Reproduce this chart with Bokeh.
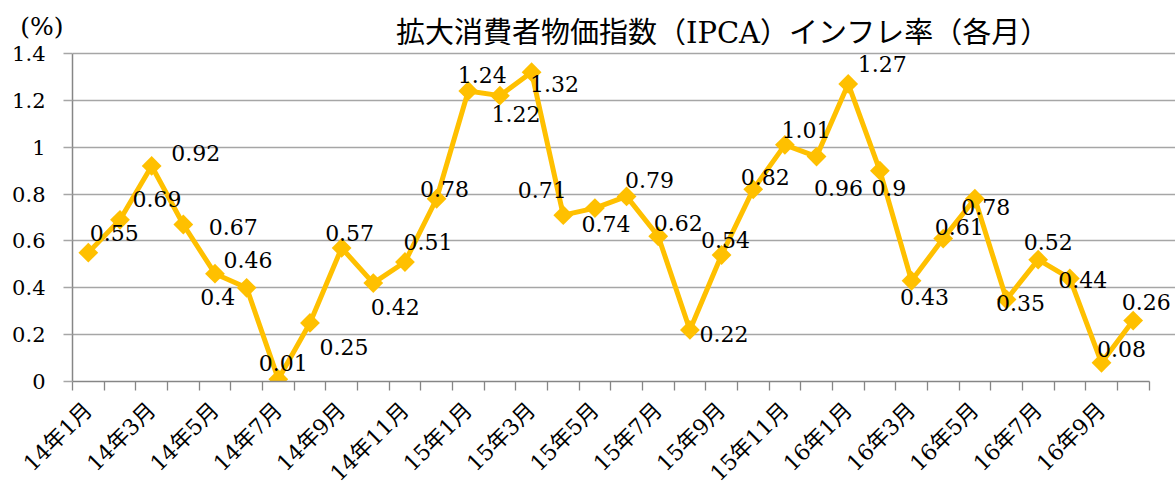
import math
from bokeh.plotting import figure
from bokeh.layouts import column
from bokeh.models import (ColumnDataSource, FixedTicker, Range1d, LabelSet, Label)
from bokeh.core.properties import value
from bokeh.embed import file_html
from bokeh.resources import INLINE

# ---------------- data ----------------
months = ["14年1月", "14年2月", "14年3月", "14年4月", "14年5月", "14年6月",
          "14年7月", "14年8月", "14年9月", "14年10月", "14年11月", "14年12月",
          "15年1月", "15年2月", "15年3月", "15年4月", "15年5月", "15年6月",
          "15年7月", "15年8月", "15年9月", "15年10月", "15年11月", "15年12月",
          "16年1月", "16年2月", "16年3月", "16年4月", "16年5月", "16年6月",
          "16年7月", "16年8月", "16年9月", "16年10月"]
ipca = [0.55, 0.69, 0.92, 0.67, 0.46, 0.40, 0.01, 0.25, 0.57, 0.42, 0.51, 0.78,
        1.24, 1.22, 1.32, 0.71, 0.74, 0.79, 0.62, 0.22, 0.54, 0.82, 1.01, 0.96,
        1.27, 0.90, 0.43, 0.61, 0.78, 0.35, 0.52, 0.44, 0.08, 0.26]
y_ticks = [0, 0.2, 0.4, 0.6, 0.8, 1.0, 1.2, 1.4]
y_tick_labels = ["0", "0.2", "0.4", "0.6", "0.8", "1", "1.2", "1.4"]
title_text = "拡大消費者物価指数（IPCA）インフレ率（各月）"
unit_text = "(%)"

# label placement (pixels, right / down) as in the original
label_dx = [26, 37, 44, 50, 33, -29, 5, 34, 8, 22, 23, 8, 14, 16, 23, -21, 11,
            23, 20, 34, 4, 12, 21, 22, 34, 9, 13, 16, 11, 14, 10, 13, 20, 13]
label_dy = [-20, -21, -13, 2, -14, 9, -16, 24, -15, 24, -20, -10, -16, 18, 12,
            -25, 16, -16, -13, 4, -15, -12, -15, 31, -20, 17, 16, -12, 8, 4,
            -18, 2, -14, -19]

# ---------------- layout ----------------
N = len(ipca)
W, H = 1175, 497
TOP = 45                                     # height of the heading strip
frame_left, frame_bottom = 72, 382           # page pixels
cat_px = 1076.5 / 34                         # width of one month
unit_px = (382 - 53) / 1.4                   # pixels per 1 %
x_end = -0.5 + (W - frame_left) / cat_px
y_end = (frame_bottom - TOP) / unit_px

SERIF = "'DejaVu Serif', 'Noto Sans CJK JP'"
GOLD = "#FFC000"
AX = "#868686"
GRID = "#a6a6a6"

# ---- heading strip: unit (as a left-axis label) and title ----
head = figure(width=W, height=TOP, output_backend="svg", toolbar_location=None,
              x_range=Range1d(0, 1), y_range=Range1d(0, TOP),
              x_axis_location=None, min_border_left=frame_left,
              min_border_right=0, min_border_top=0, min_border_bottom=0)
head.outline_line_color = None
head.grid.visible = False
head.background_fill_color = "white"
head.border_fill_color = "white"
unit_tick = TOP - 26
hy = head.yaxis[0]
hy.ticker = FixedTicker(ticks=[unit_tick])
hy.major_label_overrides = {unit_tick: unit_text}
hy.axis_line_color = None
hy.major_tick_line_color = None
hy.minor_tick_line_color = None
hy.major_tick_out = 0
hy.major_label_standoff = 9
hy.major_label_text_font = "DejaVu Serif"
hy.major_label_text_font_size = "25px"
hy.major_label_text_color = "black"
head.add_layout(Label(x=722.5 - frame_left, y=TOP - 32, x_units="screen",
                      y_units="screen", text=title_text, text_font=SERIF,
                      text_font_size="29px", text_align="center",
                      text_baseline="middle", text_color="black"))

# ---- main chart ----
p = figure(width=W, height=H - TOP, output_backend="svg", toolbar_location=None,
           x_range=Range1d(-0.5, x_end), y_range=Range1d(0, y_end),
           min_border_left=frame_left, min_border_right=0, min_border_top=0,
           min_border_bottom=H - frame_bottom)
p.outline_line_color = None
p.background_fill_color = "white"
p.border_fill_color = "white"

p.xgrid.visible = False
p.ygrid.ticker = FixedTicker(ticks=y_ticks)
p.ygrid.grid_line_color = GRID
p.ygrid.grid_line_width = 1.3
p.ygrid.bounds = (-0.5, N - 0.5)

# x axis: month labels every other month, tick marks between months
xa = p.xaxis[0]
xa.ticker = FixedTicker(ticks=list(range(0, N, 2)),
                        minor_ticks=[i - 0.5 for i in range(N + 1)])
xa.major_label_overrides = {i: months[i] for i in range(0, N, 2)}
xa.major_tick_out = 0
xa.major_tick_in = 0
xa.minor_tick_out = 9
xa.minor_tick_in = 0
xa.minor_tick_line_color = AX
xa.minor_tick_line_width = 1.3
xa.axis_line_color = AX
xa.axis_line_width = 1.5
xa.bounds = (-0.5, N - 0.5)
xa.major_label_orientation = math.pi / 4
xa.major_label_text_font = SERIF
xa.major_label_text_font_size = "22px"
xa.major_label_text_color = "black"
xa.major_label_standoff = 16

# y axis
ya = p.yaxis[0]
ya.ticker = FixedTicker(ticks=y_ticks)
ya.major_label_overrides = dict(zip(y_ticks, y_tick_labels))
ya.bounds = (y_ticks[0], y_ticks[-1])
ya.major_tick_out = 9
ya.major_tick_in = 0
ya.minor_tick_out = 0
ya.minor_tick_in = 0
ya.major_tick_line_color = GRID
ya.major_tick_line_width = 1.3
ya.axis_line_color = AX
ya.axis_line_width = 1.5
ya.major_label_text_font = "DejaVu Serif"
ya.major_label_text_font_size = "21px"
ya.major_label_text_color = "black"
ya.major_label_standoff = 18

src = ColumnDataSource(dict(
    x=list(range(N)), y=ipca,
    label=[f"{v:g}" for v in ipca],
    dx=label_dx, dy=[-d for d in label_dy]))

p.line("x", "y", source=src, line_color=GOLD, line_width=5)
p.scatter("x", "y", source=src, marker="square", size=14, angle=math.pi / 4,
          fill_color=GOLD, line_color=GOLD, line_width=0)

labels = LabelSet(x="x", y="y", text="label", source=src,
                  x_offset="dx", y_offset="dy",
                  text_align="center", text_baseline="middle",
                  text_font=value("DejaVu Serif"), text_font_size="22px",
                  text_color="black")
p.add_layout(labels)

layout = column(head, p, spacing=0)
open("out.html", "w").write(file_html(layout, INLINE))
